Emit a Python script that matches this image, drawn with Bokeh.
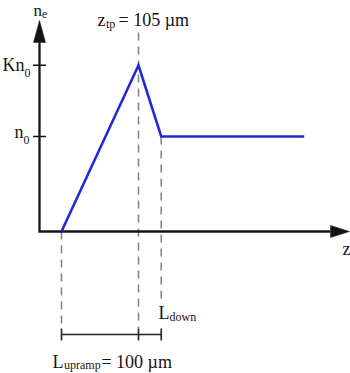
from bokeh.plotting import figure
from bokeh.models import Range1d
from bokeh.core.properties import value
from bokeh.embed import file_html
from bokeh.resources import INLINE

# ---- data (schematic density profile) ----
Z_PROFILE = [0, 105, 136, 331]          # z in µm
NE_PROFILE = [0, 1.75, 1.0, 1.0]         # n_e in units of n0 (K = 1.75)
K = 1.75
TICK_VALUES = [1.0, K]
TICK_MAIN = ["n", "Kn"]
TICK_SUB = ["0", "0"]
Z_TP = 105
Z_DOWN = 136
MARK_Z = [0, Z_TP, Z_DOWN]

FONT = value("Liberation Serif")
MAIN = value("18px")
SUB = value("12px")
INK = "#141414"
DY = 0.063   # baseline correction for text rendering

p = figure(width=350, height=373, output_backend="svg", toolbar_location=None,
           x_range=Range1d(-83.18, 394.09), y_range=Range1d(-1.4947, 2.4316),
           min_border=0, x_axis_location=None, y_axis_location=None,
           outline_line_color=None, background_fill_color="white",
           border_fill_color="white")
p.grid.grid_line_color = None

AX_Z = -30.0       # position of the vertical axis
X_TIP, X_BASE = 392.7, 366.8
Y_TIP, Y_BASE = 2.221, 1.99

# dashed guide lines
p.segment(x0=[MARK_Z[0], MARK_Z[1], MARK_Z[2]], y0=[0, 2.095, 1.0],
          x1=[MARK_Z[0], MARK_Z[1], MARK_Z[2]], y1=[-1.021, -1.021, -0.747],
          line_color="#858585", line_width=1.6, line_dash="8 6")

# axes
p.line(x=[AX_Z, AX_Z, X_BASE], y=[Y_BASE, 0, 0], line_color=INK,
       line_width=2.3, line_join="miter")
p.patch(x=[X_TIP, X_BASE, X_BASE], y=[0, 0.064, -0.064], fill_color=INK,
        line_color=INK, line_width=0.5)
p.patch(x=[AX_Z, AX_Z - 8.2, AX_Z + 8.2], y=[Y_TIP, Y_BASE, Y_BASE],
        fill_color=INK, line_color=INK, line_width=0.5)

# y ticks
p.segment(x0=[AX_Z - 8.9] * 2, x1=[AX_Z + 8.9] * 2, y0=TICK_VALUES,
          y1=TICK_VALUES, line_color=INK, line_width=1.6)

# profile
p.line(x=Z_PROFILE, y=NE_PROFILE, line_color="#2228d8", line_width=2.6,
       line_join="miter")

# bracket
BR_Y = -1.084
p.line(x=[MARK_Z[0], MARK_Z[2]], y=[BR_Y, BR_Y], line_color="#222222",
       line_width=1.6)
p.segment(x0=MARK_Z, x1=MARK_Z, y0=[BR_Y + 0.063] * 3, y1=[BR_Y - 0.063] * 3,
          line_color="#222222", line_width=1.6)


def txt(xs, ys, texts, size):
    p.text(x=xs, y=[y + DY for y in ys], text=texts, text_font=FONT,
           text_font_size=size, text_align="left",
           text_baseline="alphabetic", text_color=INK)


# tick labels
txt([-64.1, -80.5], [0.984, 1.6895], TICK_MAIN, MAIN)
txt([-51.8, -50.5], [0.905, 1.61], TICK_SUB, SUB)

# axis labels
txt([383.2], [-0.242], ["z"], MAIN)
txt([-38.2], [2.263], ["n"], value("17px"))
txt([-26.5], [2.225], ["e"], value("11.5px"))

# z_tp label
txt([49.1, 77.7], [2.168, 2.168], ["z", "= 105 µm"], MAIN)
txt([60.7], [2.126], ["tp"], SUB)

# L_down label
txt([132.3], [-0.916], ["L"], MAIN)
txt([147.3], [-0.958], ["down"], SUB)

# L_upramp label
txt([-12.3, 54.5], [-1.432, -1.432], ["L", "= 100 µm"], MAIN)
txt([3.4], [-1.463], ["upramp"], SUB)

open("out.html", "w").write(file_html(p, INLINE))
